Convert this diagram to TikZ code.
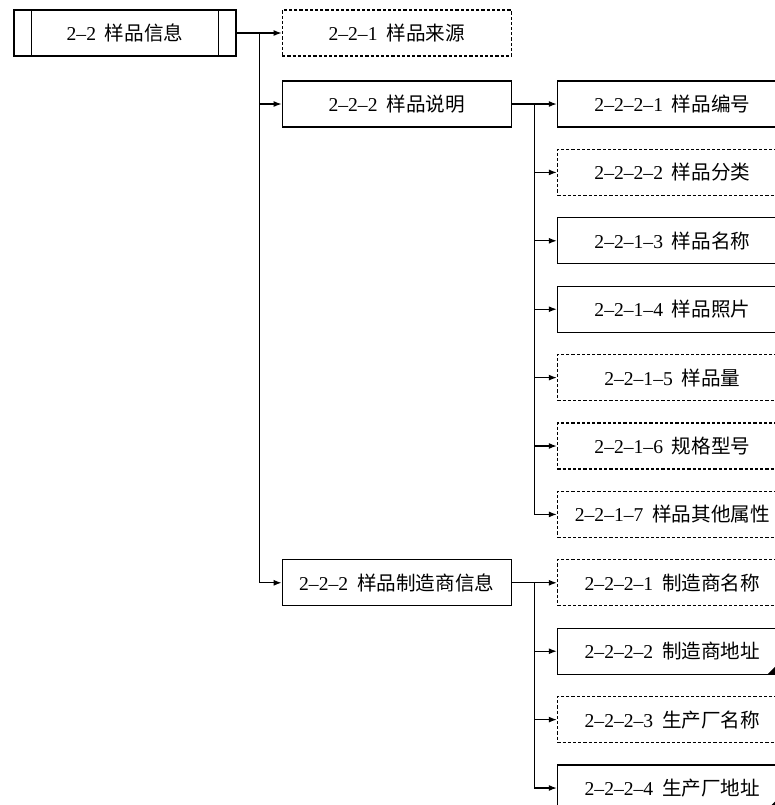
\documentclass[tikz,border=0pt]{standalone}
\usepackage{fontspec}
\setmainfont{Liberation Serif}
\newfontfamily\cjk{Noto Sans CJK SC}
\usetikzlibrary{positioning,calc,arrows.meta}
\tikzset{
	tree/.style={>={Latex[length=4pt,width=3pt]},semithick,
		node distance=10.6pt and 22.5pt,font=\fontsize{9.8}{12}\selectfont},
	block/.style={rectangle,draw,fill=white,minimum height=23pt,inner sep=0pt},
	optblock/.style={dash pattern=on 1.6pt off 1pt},
	headblock/.style={block,minimum width=111pt},
	midblock/.style={block,minimum width=114.5pt},
	leafblock/.style={block,minimum width=115pt}
}
\newcommand{\lbl}[2]{#1\hspace{0.45em}{\cjk #2}}

\begin{document}
\begin{tikzpicture}[tree,x=0.5pt,y=-0.5pt]
	\useasboundingbox (0,0) rectangle (775,805);
	\clip (0,0) rectangle (775,805);
	
	\node[headblock] (root) at (125,33) {\lbl{2--2}{样品信息}};
	\draw ([xshift=9pt]root.north west) -- ([xshift=9pt]root.south west);
	\draw ([xshift=-9pt]root.north east) -- ([xshift=-9pt]root.south east);
	
	\node[midblock,optblock] (src) [right=22.5pt of root] {\lbl{2--2--1}{样品来源}};
	\node[midblock] (desc) [below=11.9pt of src] {\lbl{2--2--2}{样品说明}};
	
	\node[leafblock] (d1) [right= of desc] {\lbl{2--2--2--1}{样品编号}};
	\node[leafblock,optblock] (d2) [below= of d1] {\lbl{2--2--2--2}{样品分类}};
	\node[leafblock] (d3) [below= of d2] {\lbl{2--2--1--3}{样品名称}};
	\node[leafblock] (d4) [below= of d3] {\lbl{2--2--1--4}{样品照片}};
	\node[leafblock,optblock] (d5) [below= of d4] {\lbl{2--2--1--5}{样品量}};
	\node[leafblock,optblock] (d6) [below= of d5] {\lbl{2--2--1--6}{规格型号}};
	\node[leafblock,optblock] (d7) [below= of d6] {\lbl{2--2--1--7}{样品其他属性}};
	
	\node[leafblock,optblock] (m1) [below= of d7] {\lbl{2--2--2--1}{制造商名称}};
	\node[leafblock] (m2) [below= of m1] {\lbl{2--2--2--2}{制造商地址}};
	\node[leafblock,optblock] (m3) [below= of m2] {\lbl{2--2--2--3}{生产厂名称}};
	\node[leafblock] (m4) [below= of m3] {\lbl{2--2--2--4}{生产厂地址}};
	
	\node[midblock] (mfr) at (desc.center |- m1) {\lbl{2--2--2}{样品制造商信息}};
	
	% connectors
	\coordinate (j1) at ($(root.east)!0.5!(src.west)$);
	\draw[->] (root.east) -- (src.west);
	\draw[->] (j1) |- (desc.west);
	\draw[->] (j1) |- (mfr.west);
	
	\coordinate (j2) at ($(desc.east)!0.5!(d1.west)$);
	\draw[->] (desc.east) -- (d1.west);
	\foreach \n in {2,...,7}
		\draw[->] (j2) |- (d\n.west);
	
	\coordinate (j3) at ($(mfr.east)!0.5!(m1.west)$);
	\draw[->] (mfr.east) -- (m1.west);
	\foreach \n in {2,3,4}
		\draw[->] (j3) |- (m\n.west);
	
	\fill ($(m2.south east)+(-21,0)$) -- ++(12,0) -- ++(0,-12) -- cycle;
	\fill ($(m4.south east)+(-23,0)$) -- ++(14,0) -- ++(0,-14) -- cycle;
	
\end{tikzpicture}
\end{document}
